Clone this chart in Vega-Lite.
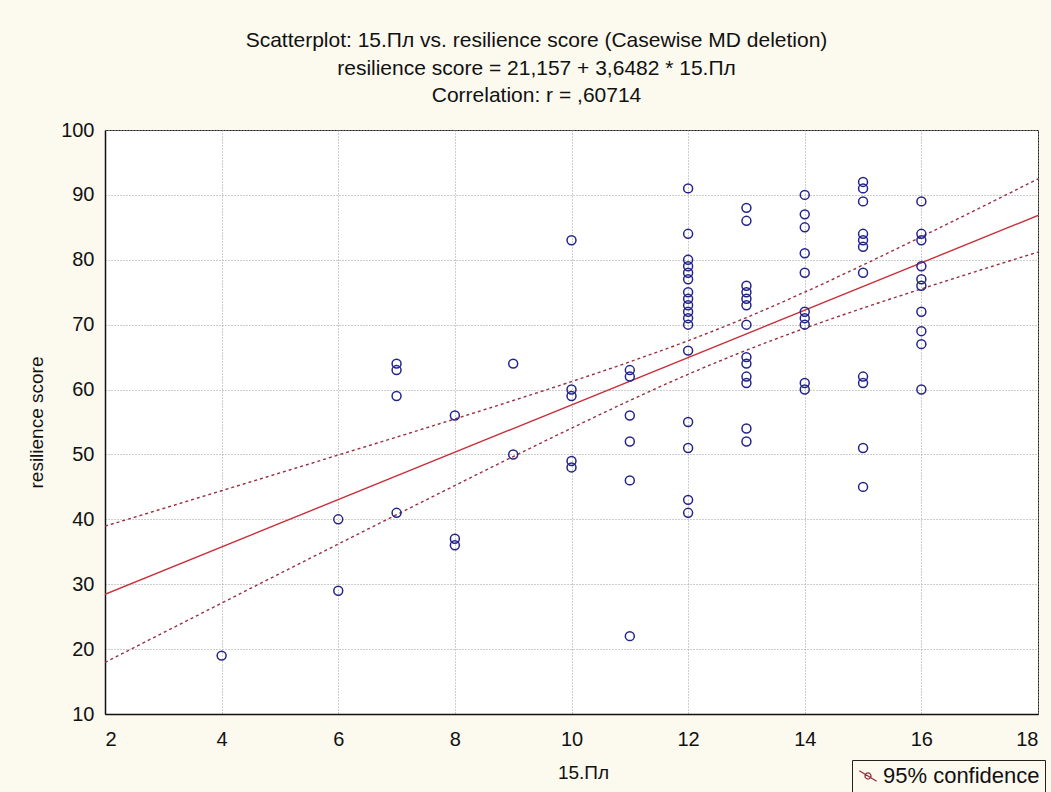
{
  "$schema": "https://vega.github.io/schema/vega-lite/v6.json",
  "width": 933,
  "height": 584,
  "autosize": {"type": "none"},
  "padding": {"left": 105, "top": 130, "right": 13, "bottom": 78},
  "background": "#fcf9ef",
  "title": {
    "text": ["Scatterplot: 15.Пл vs. resilience score (Casewise MD deletion)", "resilience score = 21,157 + 3,6482 * 15.Пл", "Correlation: r = ,60714"],
    "font": "Liberation Sans",
    "fontSize": 21,
    "fontWeight": "normal",
    "color": "#111",
    "lineHeight": 27.5,
    "offset": 14,
    "dx": -35,
    "anchor": "middle",
    "frame": "group"
  },
  "config": {
    "view": {"fill": "white", "stroke": "#222", "strokeWidth": 1},
    "axis": {
      "grid": true,
      "gridDash": [1, 2],
      "gridColor": "#9a9a9a",
      "gridWidth": 1,
      "domainColor": "#111",
      "domainWidth": 1.5,
      "ticks": false,
      "labelFont": "Liberation Sans",
      "labelFontSize": 20,
      "labelColor": "#111",
      "titleFont": "Liberation Sans",
      "titleFontSize": 19,
      "titleFontWeight": "normal",
      "titleColor": "#111"
    }
  },
  "datasets": {
    "pts": [
      {"x": 4, "score": 19},
      {"x": 6, "score": 40}, {"x": 6, "score": 29},
      {"x": 7, "score": 64}, {"x": 7, "score": 63}, {"x": 7, "score": 59}, {"x": 7, "score": 41},
      {"x": 8, "score": 56}, {"x": 8, "score": 37}, {"x": 8, "score": 36},
      {"x": 9, "score": 64}, {"x": 9, "score": 50},
      {"x": 10, "score": 83}, {"x": 10, "score": 60}, {"x": 10, "score": 59}, {"x": 10, "score": 49}, {"x": 10, "score": 48},
      {"x": 11, "score": 63}, {"x": 11, "score": 62}, {"x": 11, "score": 56}, {"x": 11, "score": 52}, {"x": 11, "score": 46}, {"x": 11, "score": 22},
      {"x": 12, "score": 91}, {"x": 12, "score": 84}, {"x": 12, "score": 80}, {"x": 12, "score": 79}, {"x": 12, "score": 78}, {"x": 12, "score": 77}, {"x": 12, "score": 75}, {"x": 12, "score": 74}, {"x": 12, "score": 73}, {"x": 12, "score": 72}, {"x": 12, "score": 71}, {"x": 12, "score": 70}, {"x": 12, "score": 66}, {"x": 12, "score": 55}, {"x": 12, "score": 51}, {"x": 12, "score": 43}, {"x": 12, "score": 41},
      {"x": 13, "score": 88}, {"x": 13, "score": 86}, {"x": 13, "score": 76}, {"x": 13, "score": 75}, {"x": 13, "score": 74}, {"x": 13, "score": 73}, {"x": 13, "score": 70}, {"x": 13, "score": 65}, {"x": 13, "score": 64}, {"x": 13, "score": 62}, {"x": 13, "score": 61}, {"x": 13, "score": 54}, {"x": 13, "score": 52},
      {"x": 14, "score": 90}, {"x": 14, "score": 87}, {"x": 14, "score": 85}, {"x": 14, "score": 81}, {"x": 14, "score": 78}, {"x": 14, "score": 72}, {"x": 14, "score": 71}, {"x": 14, "score": 70}, {"x": 14, "score": 61}, {"x": 14, "score": 60},
      {"x": 15, "score": 92}, {"x": 15, "score": 91}, {"x": 15, "score": 89}, {"x": 15, "score": 84}, {"x": 15, "score": 83}, {"x": 15, "score": 82}, {"x": 15, "score": 78}, {"x": 15, "score": 62}, {"x": 15, "score": 61}, {"x": 15, "score": 51}, {"x": 15, "score": 45},
      {"x": 16, "score": 89}, {"x": 16, "score": 84}, {"x": 16, "score": 83}, {"x": 16, "score": 79}, {"x": 16, "score": 77}, {"x": 16, "score": 76}, {"x": 16, "score": 72}, {"x": 16, "score": 69}, {"x": 16, "score": 67}, {"x": 16, "score": 60}
    ],
    "fit": [
      {"x": 2, "fit": 28.45}, {"x": 18, "fit": 86.83}
    ],
    "ci": [
      {"x": 2, "band": "upper", "v": 38.95}, {"x": 3, "band": "upper", "v": 41.67}, {"x": 4, "band": "upper", "v": 44.41}, {"x": 5, "band": "upper", "v": 47.15}, {"x": 6, "band": "upper", "v": 49.91}, {"x": 7, "band": "upper", "v": 52.67}, {"x": 8, "band": "upper", "v": 55.47}, {"x": 9, "band": "upper", "v": 58.31}, {"x": 10, "band": "upper", "v": 61.23}, {"x": 11, "band": "upper", "v": 64.27}, {"x": 12, "band": "upper", "v": 67.53}, {"x": 13, "band": "upper", "v": 71.10}, {"x": 14, "band": "upper", "v": 75.02}, {"x": 15, "band": "upper", "v": 79.20}, {"x": 16, "band": "upper", "v": 83.55}, {"x": 17, "band": "upper", "v": 87.98}, {"x": 18, "band": "upper", "v": 92.47},
      {"x": 2, "band": "lower", "v": 17.95}, {"x": 3, "band": "lower", "v": 22.53}, {"x": 4, "band": "lower", "v": 27.09}, {"x": 5, "band": "lower", "v": 31.65}, {"x": 6, "band": "lower", "v": 36.19}, {"x": 7, "band": "lower", "v": 40.71}, {"x": 8, "band": "lower", "v": 45.21}, {"x": 9, "band": "lower", "v": 49.67}, {"x": 10, "band": "lower", "v": 54.05}, {"x": 11, "band": "lower", "v": 58.31}, {"x": 12, "band": "lower", "v": 62.35}, {"x": 13, "band": "lower", "v": 66.06}, {"x": 14, "band": "lower", "v": 69.44}, {"x": 15, "band": "lower", "v": 72.56}, {"x": 16, "band": "lower", "v": 75.51}, {"x": 17, "band": "lower", "v": 78.38}, {"x": 18, "band": "lower", "v": 81.19}
    ]
  },
  "layer": [
    {
      "data": {"name": "ci"},
      "mark": {"type": "line", "strokeDash": [3, 3], "strokeWidth": 1.4, "interpolate": "monotone", "clip": true},
      "encoding": {
        "x": {"field": "x", "type": "quantitative", "scale": {"domain": [2, 18], "nice": false, "zero": false}, "axis": {"values": [2, 4, 6, 8, 10, 12, 14, 16, 18], "format": "d", "title": "15.Пл", "labelPadding": 15, "titlePadding": 14, "titleX": 478}},
        "y": {"field": "v", "type": "quantitative", "scale": {"domain": [10, 100], "nice": false, "zero": false}, "axis": {"values": [10, 20, 30, 40, 50, 60, 70, 80, 90, 100], "format": "d", "title": "resilience score", "labelPadding": 11, "titlePadding": 14}},
        "detail": {"field": "band"},
        "color": {
          "datum": "95% confidence",
          "scale": {"range": ["#9a3040"]},
          "legend": {
            "title": null,
            "orient": "none",
            "legendX": 747,
            "legendY": 630,
            "strokeColor": "#222",
            "fillColor": "#fcf9ef",
            "padding": 5,
            "labelFont": "Liberation Sans",
            "labelFontSize": 22,
            "labelColor": "#111",
            "symbolType": "M-1,-0.6L1,0.6M0.35,0A0.35,0.35,0,1,1,-0.35,0A0.35,0.35,0,1,1,0.35,0",
            "symbolSize": 300,
            "symbolStrokeWidth": 1.3,
            "symbolStrokeColor": "#3a2a7a"
          }
        }
      }
    },
    {
      "data": {"name": "fit"},
      "mark": {"type": "line", "color": "#c8303a", "strokeWidth": 1.4, "clip": true},
      "encoding": {
        "x": {"field": "x", "type": "quantitative"},
        "y": {"field": "fit", "type": "quantitative"}
      }
    },
    {
      "data": {"name": "pts"},
      "mark": {"type": "point", "shape": "circle", "filled": false, "stroke": "#23238c", "strokeWidth": 1.5, "size": 80, "opacity": 1},
      "encoding": {
        "x": {"field": "x", "type": "quantitative"},
        "y": {"field": "score", "type": "quantitative"}
      }
    }
  ]
}
